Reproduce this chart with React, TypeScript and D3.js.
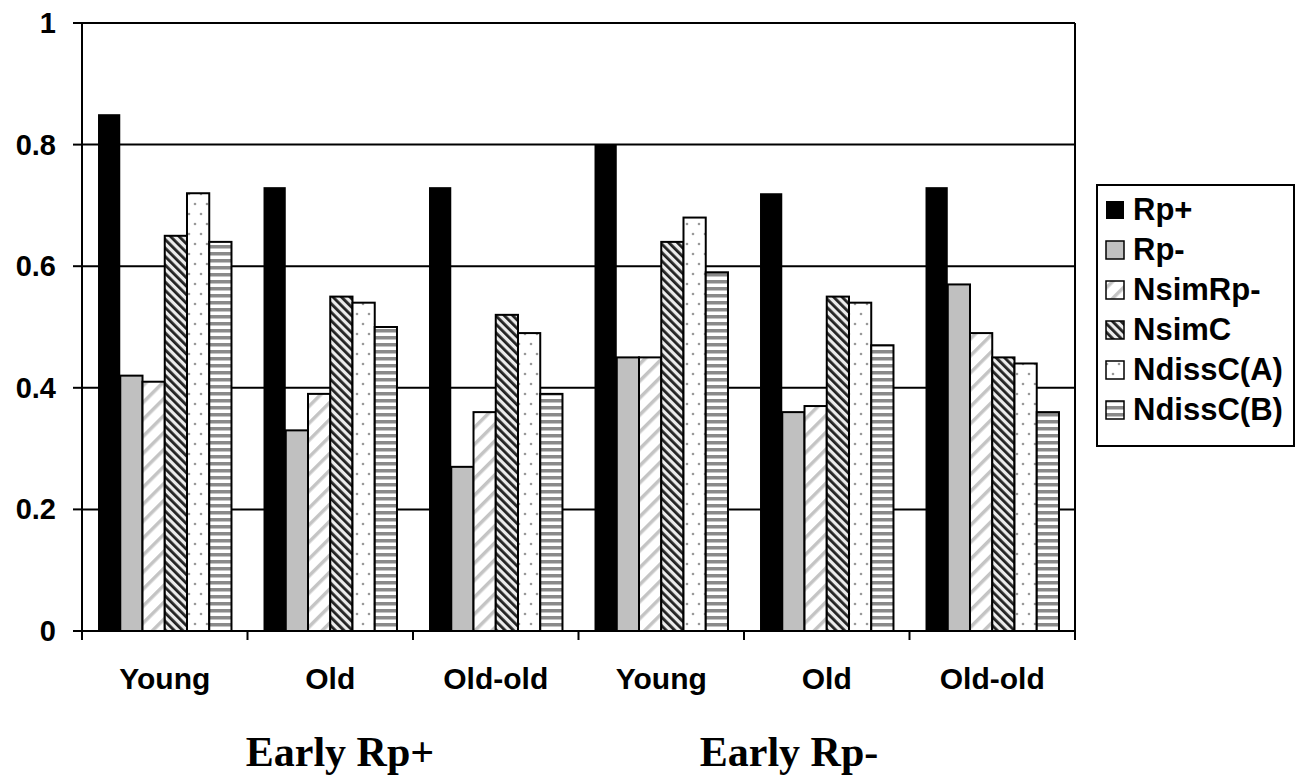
import React from "react";
import * as d3 from "d3";

const categories = ["Young", "Old", "Old-old", "Young", "Old", "Old-old"];
const groupLabels = ["Early Rp+", "Early Rp-"];
const seriesNames = ["Rp+", "Rp-", "NsimRp-", "NsimC", "NdissC(A)", "NdissC(B)"];
const rpPlus = [0.85, 0.73, 0.73, 0.8, 0.72, 0.73];
const rpMinus = [0.42, 0.33, 0.27, 0.45, 0.36, 0.57];
const nsimRpMinus = [0.41, 0.39, 0.36, 0.45, 0.37, 0.49];
const nsimC = [0.65, 0.55, 0.52, 0.64, 0.55, 0.45];
const ndissCA = [0.72, 0.54, 0.49, 0.68, 0.54, 0.44];
const ndissCB = [0.64, 0.5, 0.39, 0.59, 0.47, 0.36];
const yTicks = [0, 0.2, 0.4, 0.6, 0.8, 1];

const series = [rpPlus, rpMinus, nsimRpMinus, nsimC, ndissCA, ndissCB];
const fills = [
  "#000000",
  "#c0c0c0",
  "url(#pNsimRp)",
  "url(#pNsimC)",
  "url(#pDissA)",
  "url(#pDissB)",
];

export default function App() {
  const left = 82, right = 1075, top = 23, bottom = 631;
  const x0 = d3.scaleBand<number>().domain(d3.range(categories.length)).range([left, right]).paddingInner(0).paddingOuter(0);
  const x1 = d3.scaleBand<number>().domain(d3.range(seriesNames.length)).range([0, x0.bandwidth()]).paddingOuter(0.72).paddingInner(0);
  const y = d3.scaleLinear().domain([0, 1]).range([bottom, top]);
  const arial = "Arial, 'Liberation Sans', sans-serif";
  const times = "'Times New Roman', 'Liberation Serif', serif";
  const legendY0 = 210;
  const legendStep = 40;

  return (
    <svg width={1299} height={782} style={{ position: "absolute", left: 0, top: 0, background: "#fff" }}>
      <defs>
        <pattern id="pNsimRp" patternUnits="userSpaceOnUse" width={12} height={12} patternTransform="rotate(45)">
          <rect width={12} height={12} fill="#fff" />
          <rect x={0} y={0} width={3.5} height={12} fill="#c4c4c4" />
        </pattern>
        <pattern id="pNsimC" patternUnits="userSpaceOnUse" width={6} height={6} patternTransform="rotate(-45)">
          <rect width={6} height={6} fill="#ececec" />
          <rect x={0} y={0} width={2.8} height={6} fill="#222" />
        </pattern>
        <pattern id="pDissA" patternUnits="userSpaceOnUse" width={12} height={20}>
          <rect width={12} height={20} fill="#fff" />
          <circle cx={3} cy={4} r={1.3} fill="#999" />
          <circle cx={9} cy={14} r={1.3} fill="#999" />
        </pattern>
        <pattern id="pDissB" patternUnits="userSpaceOnUse" width={6} height={7}>
          <rect width={6} height={7} fill="#fff" />
          <rect x={0} y={0} width={6} height={3.5} fill="#8a8a8a" />
        </pattern>
      </defs>

      {/* gridlines */}
      {yTicks.filter((t) => t > 0).map((t) => (
        <line key={t} x1={left} x2={right} y1={y(t)} y2={y(t)} stroke="#000" strokeWidth={2} />
      ))}
      {/* right border */}
      <line x1={right} x2={right} y1={top} y2={bottom} stroke="#000" strokeWidth={2} />

      {/* bars */}
      {categories.map((_, ci) => (
        <g key={ci}>
          {series.map((vals, si) => (
            <rect
              key={si}
              x={(x0(ci) as number) + (x1(si) as number)}
              y={y(vals[ci])}
              width={x1.bandwidth()}
              height={y(0) - y(vals[ci])}
              fill={fills[si]}
              stroke="#000"
              strokeWidth={si === 0 ? 0 : 2}
            />
          ))}
        </g>
      ))}

      {/* y axis */}
      <line x1={left} x2={left} y1={top - 1} y2={bottom + 1} stroke="#000" strokeWidth={2} />
      {yTicks.map((t) => (
        <g key={t}>
          <line x1={left - 9} x2={left} y1={y(t)} y2={y(t)} stroke="#000" strokeWidth={2} />
          <text x={56} y={y(t) + 10} textAnchor="end" fontFamily={arial} fontWeight="bold" fontSize={29}>
            {t === 0 || t === 1 ? String(t) : t.toFixed(1)}
          </text>
        </g>
      ))}

      {/* x axis */}
      <line x1={left - 1} x2={right + 1} y1={bottom} y2={bottom} stroke="#000" strokeWidth={2} />
      {d3.range(categories.length + 1).map((i) => {
        const xx = left + i * x0.bandwidth();
        return <line key={i} x1={xx} x2={xx} y1={bottom} y2={bottom + 9} stroke="#000" strokeWidth={2} />;
      })}
      {categories.map((c, ci) => (
        <text
          key={ci}
          x={(x0(ci) as number) + x0.bandwidth() / 2}
          y={689}
          textAnchor="middle"
          fontFamily={arial}
          fontWeight="bold"
          fontSize={30}
        >
          {c}
        </text>
      ))}
      {groupLabels.map((g, gi) => (
        <text
          key={g}
          x={gi === 0 ? 340 : 789}
          y={766}
          textAnchor="middle"
          fontFamily={times}
          fontWeight="bold"
          fontSize={42}
        >
          {g}
        </text>
      ))}

      {/* legend */}
      <rect x={1097} y={185} width={197} height={261} fill="#fff" stroke="#000" strokeWidth={2} />
      {seriesNames.map((name, si) => {
        const cy = legendY0 + si * legendStep;
        return (
          <g key={name}>
            <rect x={1106} y={cy - 9} width={18} height={18} fill={fills[si]} stroke="#000" strokeWidth={si === 0 ? 0 : 1.5} />
            <text x={1133} y={cy + 10} fontFamily={arial} fontWeight="bold" fontSize={31}>
              {name}
            </text>
          </g>
        );
      })}
    </svg>
  );
}
